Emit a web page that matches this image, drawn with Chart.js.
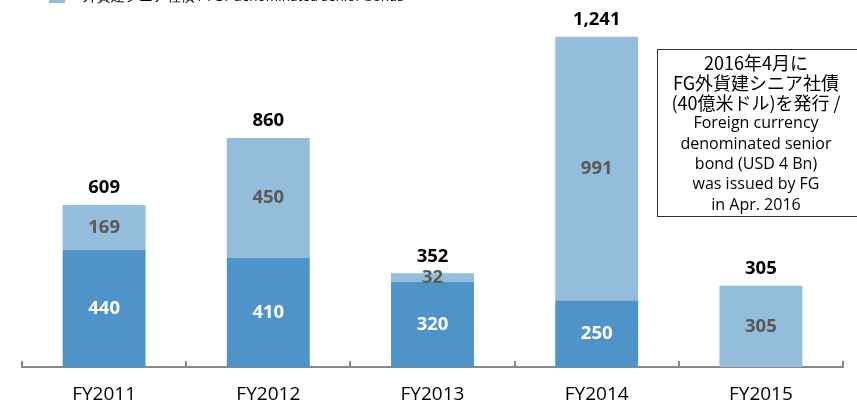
<!DOCTYPE html>
<html>
<head>
<meta charset="utf-8">
<script src="https://cdn.jsdelivr.net/npm/chart.js"></script>
<style>
  html, body { margin: 0; padding: 0; background: #fff; overflow: hidden; }
  #wrap { width: 857px; height: 406px; position: relative; }
</style>
</head>
<body>
<div id="wrap"><canvas id="myChart" width="857" height="406"></canvas></div>
<script>
var years = ['FY2011', 'FY2012', 'FY2013', 'FY2014', 'FY2015'];
var otherBonds = [440, 410, 320, 250, 0];
var fcySenior = [169, 450, 32, 991, 305];
var totals = [609, 860, 352, 1241, 305];
var legendText = '外貨建シニア社債 / FCY denominated senior bonds';
var noteLines = ['2016年4月に', 'FG外貨建シニア社債', '(40億米ドル)を発行 /', 'Foreign currency',
  'denominated senior', 'bond (USD 4 Bn)', 'was issued by FG', 'in Apr. 2016'];

var fontFam = '"Open Sans", "Noto Sans", sans-serif';
var jpFam = '"Noto Sans CJK JP", "Liberation Sans", sans-serif';

// labels inside bars and totals on top
var labelPlugin = {
  id: 'labels',
  afterDatasetsDraw: function (chart) {
    var ctx = chart.ctx;
    ctx.save();
    ctx.textAlign = 'center';
    ctx.textBaseline = 'middle';
    ctx.font = 'bold 18.5px ' + fontFam;
    chart.data.datasets.forEach(function (ds, i) {
      var meta = chart.getDatasetMeta(i);
      meta.data.forEach(function (bar, j) {
        var v = ds.data[j];
        if (!v) return;
        ctx.fillStyle = i === 0 ? '#ffffff' : '#595959';
        ctx.fillText(v, bar.x, (bar.y + bar.base) / 2);
      });
    });
    var top = chart.getDatasetMeta(1);
    ctx.fillStyle = '#000';
    top.data.forEach(function (bar, j) {
      ctx.fillText(totals[j].toLocaleString('en-US'), bar.x, bar.y - 17);
    });
    ctx.restore();
  }
};

// upward tick marks, note box and cut-off legend
var extrasPlugin = {
  id: 'extras',
  afterDraw: function (chart) {
    var ctx = chart.ctx;
    var xs = chart.scales.x;
    var n = years.length;
    ctx.save();
    ctx.strokeStyle = '#888';
    ctx.lineWidth = 2;
    for (var k = 0; k <= n; k++) {
      var px = Math.round(xs.left + (xs.right - xs.left) * k / n);
      ctx.beginPath();
      ctx.moveTo(px, xs.top);
      ctx.lineTo(px, xs.top - 6);
      ctx.stroke();
    }
    ctx.strokeStyle = '#333';
    ctx.lineWidth = 1;
    ctx.strokeRect(657.5, 49.5, 200, 167);
    ctx.fillStyle = '#000';
    ctx.textAlign = 'center';
    ctx.textBaseline = 'middle';
    noteLines.forEach(function (t, k) {
      ctx.font = k < 3 ? '18px ' + jpFam : '16px ' + fontFam;
      ctx.fillText(t, 756, 63 + k * 20.3);
    });
    ctx.fillStyle = '#94bcdb';
    ctx.fillRect(49, -6, 16, 9);
    ctx.fillStyle = '#000';
    ctx.textAlign = 'left';
    ctx.font = '13.5px ' + fontFam;
    ctx.fillText(legendText, 83, -3);
    ctx.restore();
  }
};

new Chart(document.getElementById('myChart'), {
  type: 'bar',
  data: {
    labels: years,
    datasets: [
      { label: 'other', data: otherBonds, backgroundColor: '#4f94c8' },
      { label: legendText, data: fcySenior, backgroundColor: '#94bcdb' }
    ]
  },
  options: {
    responsive: false,
    animation: false,
    layout: { padding: { left: 22, right: 14, top: 21, bottom: 0 } },
    plugins: { legend: { display: false }, tooltip: { enabled: false } },
    datasets: { bar: { barPercentage: 0.505, categoryPercentage: 1 } },
    scales: {
      x: {
        stacked: true,
        afterFit: function (s) { s.height = 39; },
        grid: { offset: true, drawOnChartArea: false, drawTicks: false },
        border: { color: '#888', width: 2 },
        ticks: { color: '#000', font: { family: fontFam, size: 19 }, padding: 16 }
      },
      y: {
        stacked: true,
        display: false,
        min: 0,
        max: 1300
      }
    }
  },
  plugins: [labelPlugin, extrasPlugin]
});
</script>
</body>
</html>
